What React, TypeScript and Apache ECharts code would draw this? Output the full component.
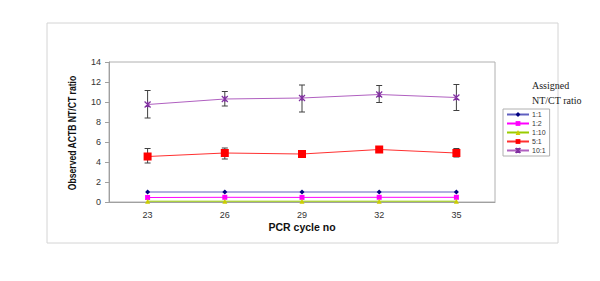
import React, { useEffect, useRef } from "react";
import * as echarts from "echarts";

const cycles = ["23", "26", "29", "32", "35"];
const yTicks = [0, 14, 2];

const r1_1 = [1.0, 1.0, 1.0, 1.0, 1.0];
const r1_2 = [0.45, 0.47, 0.46, 0.47, 0.47];
const r1_10 = [0.08, 0.08, 0.08, 0.08, 0.08];
const r5_1 = [4.55, 4.9, 4.8, 5.25, 4.9];
const r5_1Low = [3.9, 4.3, 4.6, 5.05, 4.5];
const r5_1High = [5.35, 5.4, 5.0, 5.5, 5.35];
const r10_1 = [9.75, 10.3, 10.4, 10.75, 10.45];
const r10_1Low = [8.4, 9.6, 9.0, 9.95, 9.15];
const r10_1High = [11.15, 11.05, 11.7, 11.65, 11.75];

const seriesNames = ["1:1", "1:2", "1:10", "5:1", "10:1"];
const yTitle = "Observed ACTB NT/CT ratio";
const xTitle = "PCR cycle no";
const legendTitle = "Assigned\nNT/CT ratio";

const X_PATH = "path://M0,0 L10,10 M10,0 L0,10 M5,0 L5,10";

export default function App() {
  const ref = useRef<HTMLDivElement>(null);
  useEffect(() => {
    if (!ref.current) return;
    const chart = echarts.init(ref.current, undefined, { renderer: "svg" });

    const errData = (lo: number[], hi: number[]) =>
      cycles.map((c, i) => [i, lo[i], hi[i]]);

    const errRender = (params: any, api: any) => {
      const x = api.value(0);
      const lo = api.coord([x, api.value(1)]);
      const hi = api.coord([x, api.value(2)]);
      const cap = 3;
      const st = { stroke: "#404040", lineWidth: 1 };
      return {
        type: "group",
        children: [
          { type: "line", shape: { x1: lo[0], y1: lo[1], x2: hi[0], y2: hi[1] }, style: st },
          { type: "line", shape: { x1: lo[0] - cap, y1: lo[1], x2: lo[0] + cap, y2: lo[1] }, style: st },
          { type: "line", shape: { x1: hi[0] - cap, y1: hi[1], x2: hi[0] + cap, y2: hi[1] }, style: st },
        ],
      };
    };

    const font = "'Liberation Sans', Arial, sans-serif";

    chart.setOption({
      animation: false,
      backgroundColor: "#ffffff",
      grid: {
        left: 109,
        right: 105,
        top: 62,
        bottom: 79,
        show: true,
        borderColor: "#b0b0b0",
        borderWidth: 1,
      },
      xAxis: {
        type: "category",
        data: cycles,
        boundaryGap: true,
        axisLine: { lineStyle: { color: "#a0a0a0" } },
        axisTick: { alignWithLabel: false, length: 4, lineStyle: { color: "#a0a0a0" } },
        axisLabel: { color: "#333", fontSize: 9, fontFamily: font, margin: 8 },
        name: xTitle,
        nameLocation: "middle",
        nameGap: 19,
        nameTextStyle: { fontWeight: "bold", fontSize: 10.5, color: "#111", fontFamily: font },
        splitLine: { show: false },
      },
      yAxis: {
        type: "value",
        min: yTicks[0],
        max: yTicks[1],
        interval: yTicks[2],
        axisLine: { show: true, lineStyle: { color: "#a0a0a0" } },
        axisTick: { show: true, length: 4, lineStyle: { color: "#a0a0a0" } },
        axisLabel: { color: "#333", fontSize: 9, fontFamily: font, margin: 8 },
        splitLine: { show: false },
      },
      legend: {
        orient: "vertical",
        left: 503,
        top: 109,
        data: seriesNames,
        itemWidth: 22,
        itemHeight: 6,
        itemGap: 2,
        padding: [2, 4, 2, 3],
        borderColor: "#b0b0b0",
        borderWidth: 1,
        textStyle: { fontSize: 7, color: "#333", fontFamily: font, padding: [0, 0, 0, -2] },
      },
      graphic: [
        {
          type: "rect",
          shape: { x: 47, y: 23, width: 511, height: 220 },
          style: { fill: "none", stroke: "#d4d4d4", lineWidth: 1 },
          z: -10,
        },
        {
          type: "text",
          left: 532,
          top: 78,
          style: {
            text: legendTitle,
            font: "10px 'Liberation Serif', 'Times New Roman', serif",
            fill: "#222",
            lineHeight: 15,
          },
        },
        {
          type: "text",
          x: 72,
          y: 133,
          rotation: Math.PI / 2,
          scaleX: 0.82,
          style: {
            text: yTitle,
            font: "bold 10.5px 'Liberation Sans', Arial, sans-serif",
            fill: "#111",
            align: "center",
            verticalAlign: "middle",
          },
        },
      ],
      series: [
        {
          name: "1:1",
          type: "line",
          data: r1_1,
          symbol: "diamond",
          symbolSize: 5,
          itemStyle: { color: "#000080" },
          lineStyle: { color: "#6060c0", width: 1 },
        },
        {
          name: "1:2",
          type: "line",
          data: r1_2,
          symbol: "rect",
          symbolSize: 5,
          itemStyle: { color: "#ff00ff" },
          lineStyle: { color: "#ff00ff", width: 1 },
        },
        {
          name: "1:10",
          type: "line",
          data: r1_10,
          symbol: "triangle",
          symbolSize: 5,
          itemStyle: { color: "#cccc00" },
          lineStyle: { color: "#99cc00", width: 1 },
        },
        {
          name: "5:1",
          type: "line",
          data: r5_1,
          symbol: "rect",
          symbolSize: 8,
          itemStyle: { color: "#ff0000" },
          lineStyle: { color: "#ff3030", width: 1 },
          z: 3,
        },
        {
          name: "10:1",
          type: "line",
          data: r10_1,
          symbol: X_PATH,
          symbolSize: 6,
          itemStyle: { color: "#a040b0", borderColor: "#8030a0", borderWidth: 1.2 },
          lineStyle: { color: "#b060c0", width: 1 },
          z: 3,
        },
        {
          type: "custom",
          renderItem: errRender,
          data: errData(r5_1Low, r5_1High),
          encode: { x: 0, y: [1, 2] },
          z: 2,
        },
        {
          type: "custom",
          renderItem: errRender,
          data: errData(r10_1Low, r10_1High),
          encode: { x: 0, y: [1, 2] },
          z: 2,
        },
      ],
    });
    return () => chart.dispose();
  }, []);
  return (
    <div
      ref={ref}
      style={{ position: "absolute", left: 0, top: 0, width: 600, height: 281 }}
    />
  );
}
